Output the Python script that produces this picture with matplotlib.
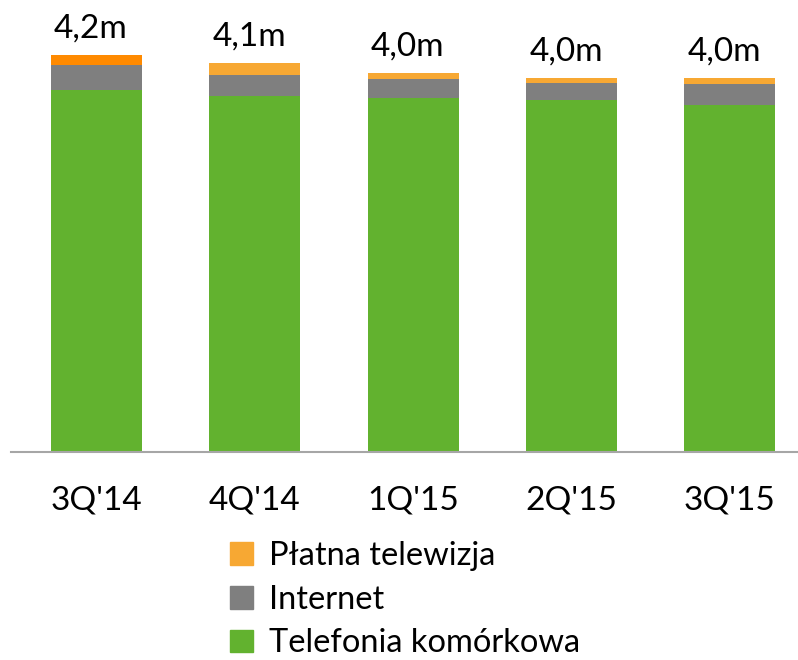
import matplotlib
matplotlib.use("Agg")
import matplotlib.pyplot as plt
from matplotlib.patches import Patch

# dane (mln klientów)
quarters = ["3Q'14", "4Q'14", "1Q'15", "2Q'15", "3Q'15"]
mobile = [3.83, 3.77, 3.75, 3.72, 3.67]
internet = [0.26, 0.22, 0.20, 0.19, 0.22]
pay_tv = [0.11, 0.13, 0.06, 0.05, 0.07]
totals_txt = ["4,2m", "4,1m", "4,0m", "4,0m", "4,0m"]
series_names = ["Płatna telewizja", "Internet", "Telefonia komórkowa"]

GREEN = "#62B22F"
GREY = "#7F7F7F"
ORANGE = "#F7A833"
ORANGE_DARK = "#FF8A00"

plt.rcParams['font.family'] = ['Lato', 'DejaVu Sans']

fig = plt.figure(figsize=(7.98, 6.6), dpi=100)
ax = fig.add_axes([11 / 798, 1 - 452 / 660, 787 / 798, 452 / 660])

x = list(range(len(quarters)))
w = 0.574
ax.bar(x, mobile, width=w, color=GREEN)
ax.bar(x, internet, width=w, bottom=mobile, color=GREY)
tv_bottom = [m + i for m, i in zip(mobile, internet)]
tv_colors = [ORANGE_DARK] + [ORANGE] * (len(quarters) - 1)
ax.bar(x, pay_tv, width=w, bottom=tv_bottom, color=tv_colors)

for xi, b, t, lab in zip(x, tv_bottom, pay_tv, totals_txt):
    ax.annotate(lab, (xi, b + t), xytext=(-4, 8), textcoords="offset points",
                ha="center", va="bottom", fontsize=24)

ax.set_xlim(-0.54, 4.43)
ax.set_ylim(0, 452 / 94.5)
ax.set_xticks(x)
ax.set_xticklabels(quarters, fontsize=24)
ax.tick_params(axis="x", length=0, pad=24)
ax.set_yticks([])
for s in ["top", "right", "left"]:
    ax.spines[s].set_visible(False)
ax.spines["bottom"].set_color("#A6A6A6")
ax.spines["bottom"].set_linewidth(1.5)

handles = [Patch(color=ORANGE), Patch(color=GREY), Patch(color=GREEN)]
fig.legend(handles, series_names, loc="upper left",
           bbox_to_anchor=(217 / 798, 1 - 528 / 660), frameon=False,
           fontsize=23.5, handlelength=0.7, handleheight=0.7,
           handletextpad=0.5, labelspacing=0.42, borderaxespad=0)

fig.savefig("out.png", dpi=100)
